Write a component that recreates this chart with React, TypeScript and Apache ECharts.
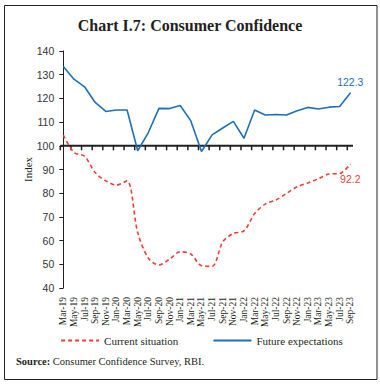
import React, { useEffect, useRef } from "react";
import * as echarts from "echarts";

const categories = [
  "Mar-19", "May-19", "Jul-19", "Sep-19", "Nov-19", "Jan-20", "Mar-20", "May-20",
  "Jul-20", "Sep-20", "Nov-20", "Jan-21", "Mar-21", "May-21", "Jul-21", "Sep-21",
  "Nov-21", "Jan-22", "Mar-22", "May-22", "Jul-22", "Sep-22", "Nov-22", "Jan-23",
  "Mar-23", "May-23", "Jul-23", "Sep-23",
];

const currentSituation = [
  104.5, 97.2, 95.6, 88.7, 85.2, 83.4, 85.2, 63.4, 52.6, 49.7, 52.2, 55.3, 54.3, 49.4,
  49.1, 59.5, 63.0, 64.1, 71.4, 75.4, 77.1, 79.9, 82.7, 84.3, 86.1, 88.1, 88.3, 92.2,
];

const futureExpectations = [
  133.5, 128.1, 124.9, 118.3, 114.5, 115.1, 115.1, 97.9, 105.6, 115.8, 115.7, 117.0,
  110.5, 97.6, 104.6, 107.5, 110.3, 103.2, 115.1, 113.0, 113.2, 113.0, 114.8, 116.2,
  115.5, 116.3, 116.6, 122.3,
];

const yMin = 40;
const yMax = 140;
const yInterval = 10;
const crossValue = 100;

const titleText = "Chart I.7: Consumer Confidence";
const yName = "Index";
const seriesNames = ["Current situation", "Future expectations"];
const sourceBold = "Source:";
const sourceRest = " Consumer Confidence Survey, RBI.";

const RED = "#ee3e36";
const BLUE = "#1f6fb6";
const INK = "#231f20";

export default function App() {
  const ref = useRef<HTMLDivElement>(null);

  useEffect(() => {
    if (!ref.current) return;
    const chart = echarts.init(ref.current, undefined, { renderer: "svg" });

    const gridLeft = 60.3;
    const gridTop = 51;
    const gridWidth = 292.7;
    const gridHeight = 237;
    const pxPerCat = 10.63;
    const xMin = -3 / pxPerCat;
    const xMax = categories.length - 1 + 2.7 / pxPerCat;
    const lastIdx = categories.length - 1;

    const mkData = (arr: number[], labelPos: string, dist: number, color: string) =>
      arr.map((v, i) =>
        i === lastIdx
          ? {
              value: [i, v],
              symbol: "circle",
              symbolSize: 1,
              label: {
                show: true,
                position: labelPos,
                distance: dist,
                formatter: () => v.toFixed(1),
                color,
                fontFamily: "Liberation Sans",
                fontSize: 10.5,
              },
            }
          : [i, v]
      );

    chart.setOption({
      animation: false,
      backgroundColor: "#ffffff",
      title: {
        text: titleText,
        left: "center",
        top: 12,
        textStyle: { fontFamily: "Liberation Serif", fontWeight: "bold", fontSize: 16, color: INK },
      },
      grid: { left: gridLeft, top: gridTop, width: gridWidth, height: gridHeight },
      legend: {
        left: 55,
        top: 330,
        itemWidth: 38,
        itemHeight: 10,
        itemGap: 34,
        lineStyle: { width: 2.2 },
        itemStyle: { opacity: 0 },
        textStyle: { fontFamily: "Liberation Serif", fontSize: 11, color: INK },
        data: seriesNames,
      },
      xAxis: {
        type: "value",
        min: xMin,
        max: xMax,
        position: "bottom",
        axisLine: { show: false },
        axisTick: { show: false },
        splitLine: { show: false },
        axisLabel: {
          customValues: categories.map((_, i) => i),
          formatter: (v: number) => categories[Math.round(v)] ?? "",
          rotate: 90,
          margin: 9,
          fontFamily: "Liberation Serif",
          fontSize: 9.5,
          color: INK,
        },
      },
      yAxis: {
        type: "value",
        min: yMin,
        max: yMax,
        interval: yInterval,
        name: yName,
        nameLocation: "middle",
        nameGap: 27,
        nameMoveOverlap: false,
        nameTextStyle: { fontFamily: "Liberation Serif", fontSize: 11, color: INK },
        axisLine: { show: true, lineStyle: { color: INK, width: 1 } },
        axisTick: { show: true, length: 4, lineStyle: { color: INK } },
        axisLabel: { margin: 6, fontFamily: "Liberation Sans", fontSize: 10.5, color: "#333" },
        splitLine: { show: false },
      },
      series: [
        {
          name: seriesNames[0],
          type: "line",
          data: mkData(currentSituation, "bottom", 9, RED),
          symbol: "none",
          smooth: 0.3,
          color: RED,
          lineStyle: { color: RED, width: 1.6, type: [4, 3] },
          itemStyle: { color: RED },
          z: 3,
        },
        {
          name: seriesNames[1],
          type: "line",
          data: mkData(futureExpectations, "top", 5, BLUE),
          symbol: "none",
          color: BLUE,
          lineStyle: { color: BLUE, width: 1.6 },
          itemStyle: { color: BLUE },
          z: 4,
        },
      ],
      graphic: [
        {
          id: "frame",
          type: "rect",
          shape: { x: 4.5, y: 5.5, width: 372.5, height: 374 },
          style: { fill: "none", stroke: "#222", lineWidth: 1 },
          silent: true,
        },
        {
          id: "source",
          type: "text",
          left: 16,
          top: 356,
          style: {
            text: `{b|${sourceBold}}{r|${sourceRest}}`,
            rich: {
              b: { fontFamily: "Liberation Serif", fontWeight: "bold", fontSize: 10.5, fill: INK },
              r: { fontFamily: "Liberation Serif", fontSize: 10.5, fill: INK },
            },
          },
        },
      ],
    });

    // Category axis line and ticks at the 100 level, placed through the chart's own scales.
    const toPx = (x: number, y: number) =>
      chart.convertToPixel({ xAxisIndex: 0, yAxisIndex: 0 }, [x, y]) as number[];
    const a = toPx(xMin, crossValue);
    const b = toPx(xMax, crossValue);
    const crossAxis: any[] = [
      {
        id: "cross-line",
        type: "line",
        shape: { x1: a[0], y1: a[1], x2: b[0], y2: b[1] },
        style: { stroke: INK, lineWidth: 2 },
      },
    ];
    categories.forEach((_, i) => {
      const p = toPx(i + xMin, crossValue);
      crossAxis.push({
        id: `cross-tick-${i}`,
        type: "line",
        shape: { x1: p[0], y1: p[1], x2: p[0], y2: p[1] + 4.5 },
        style: { stroke: INK, lineWidth: 1.5 },
      });
    });
    chart.setOption({ graphic: crossAxis });

    return () => chart.dispose();
  }, []);

  return (
    <div
      ref={ref}
      style={{ position: "fixed", left: 0, top: 0, width: 380, height: 384, background: "#fff" }}
    />
  );
}
